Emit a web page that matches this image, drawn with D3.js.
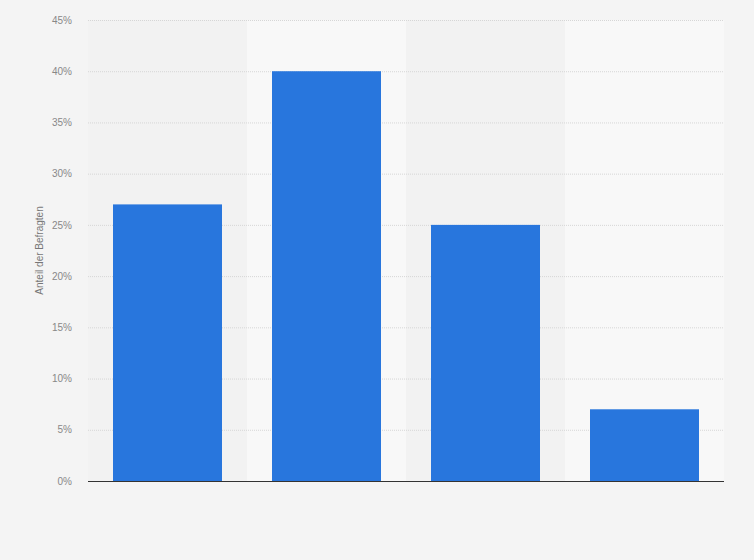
<!DOCTYPE html>
<html>
<head>
<meta charset="utf-8">
<script src="https://cdn.jsdelivr.net/npm/d3@7"></script>
<style>
  html, body { margin: 0; padding: 0; background: #f4f4f4; }
  svg { display: block; font-family: "Liberation Sans", Arial, sans-serif; }
</style>
</head>
<body>
<svg id="chart" width="754" height="560"></svg>
<script>
const categories = ["A", "B", "C", "D"];
const values = [27, 40, 25, 7];
const yTicks = [0, 5, 10, 15, 20, 25, 30, 35, 40, 45];
const yLabel = "Anteil der Befragten";

const svg = d3.select("#chart");
const margin = { top: 20, right: 30, bottom: 79, left: 88 };
const width = 754 - margin.left - margin.right;
const height = 560 - margin.top - margin.bottom;

const g = svg.append("g")
    .attr("transform", `translate(${margin.left},${margin.top})`);

const x = d3.scaleBand()
    .domain(categories)
    .range([0, width])
    .paddingInner(0)
    .paddingOuter(0);

const y = d3.scaleLinear()
    .domain([0, 45])
    .range([height, 0]);

// alternating column bands
g.selectAll("rect.band")
    .data(categories)
    .enter().append("rect")
    .attr("class", "band")
    .attr("x", d => x(d))
    .attr("y", 0)
    .attr("width", x.bandwidth())
    .attr("height", height)
    .attr("fill", (d, i) => i % 2 ? "#f8f8f8" : "#f2f2f2");

// grid
g.append("g")
    .selectAll("line")
    .data(yTicks.slice(1))
    .enter().append("line")
    .attr("x1", 0)
    .attr("x2", width)
    .attr("y1", d => y(d) + 0.5)
    .attr("y2", d => y(d) + 0.5)
    .attr("stroke", "#d6d6d6")
    .attr("stroke-dasharray", "1,1");

// y axis labels
const yAxis = g.append("g")
    .call(d3.axisLeft(y).tickValues(yTicks).tickFormat(d => d + "%").tickSize(0).tickPadding(16));
yAxis.select(".domain").remove();
yAxis.selectAll("text")
    .attr("fill", "#888")
    .attr("font-size", 10);

// bars
const barW = 109;
g.selectAll("rect.bar")
    .data(values)
    .enter().append("rect")
    .attr("class", "bar")
    .attr("x", (d, i) => x(categories[i]) + (x.bandwidth() - barW) / 2)
    .attr("y", d => y(d))
    .attr("width", barW)
    .attr("height", d => height - y(d))
    .attr("fill", "#2876dd");

// baseline
g.append("line")
    .attr("x1", 0)
    .attr("x2", width)
    .attr("y1", height + 0.5)
    .attr("y2", height + 0.5)
    .attr("stroke", "#333")
    .attr("stroke-width", 1);

// y title
svg.append("text")
    .attr("transform", `translate(43,${margin.top + height / 2}) rotate(-90)`)
    .attr("text-anchor", "middle")
    .attr("fill", "#777")
    .attr("font-size", 10)
    .text(yLabel);
</script>
</body>
</html>
